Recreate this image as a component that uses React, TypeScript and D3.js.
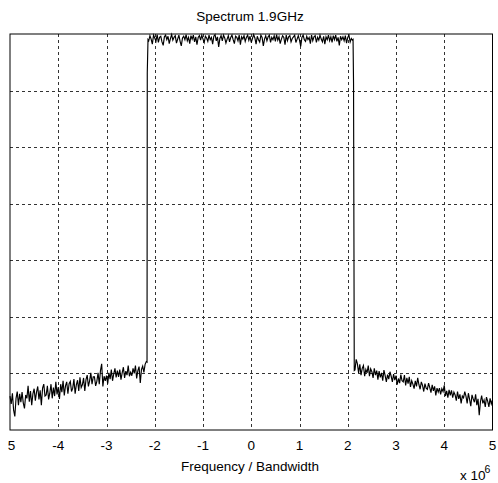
import React, { useEffect, useRef } from "react";
import * as d3 from "d3";

// spectrum levels in dB (x in units of 1e6)
const leftFloorStart = -5;
const bandStart = -2.125;
const rightFloorStart = 2.15;
const step = 0.025;

const leftFloor = [
  -64.0, -65.4, -63.5, -66.5, -67.6, -64.4, -63.2, -65.6, -63.6, -65.1,
  -63.3, -65.2, -66.2, -63.8, -64.4, -62.2, -65.0, -63.1, -65.6, -63.6,
  -62.7, -64.8, -63.3, -62.3, -64.6, -63.0, -65.6, -62.6, -61.9, -64.0,
  -63.8, -62.2, -64.6, -63.5, -61.9, -64.4, -62.5, -64.0, -61.5, -63.7,
  -62.4, -64.5, -61.9, -63.3, -61.3, -63.9, -62.2, -61.5, -63.6, -61.8,
  -61.4, -63.2, -62.6, -61.0, -63.6, -62.0, -61.2, -63.1, -60.7, -62.5,
  -62.0, -60.8, -63.1, -61.1, -60.3, -62.3, -61.3, -59.9, -61.9, -60.6,
  -60.6, -62.2, -61.4, -59.9, -61.9, -59.5, -58.3, -62.3, -60.5, -61.3,
  -60.4, -61.8, -59.9, -61.0, -59.3, -61.3, -60.1, -59.1, -60.7, -59.5,
  -60.6, -59.3, -61.1, -59.9, -58.9, -60.8, -59.6, -60.3, -58.6, -60.5,
  -59.8, -60.4, -59.1, -60.0, -58.6, -60.9, -59.5, -58.8, -61.7, -59.3,
  -58.7, -59.8, -58.4, -57.9,
];

const leftEdgeFreqs = [-2.16, -2.155, -2.14];
const leftEdgeLevels = [-58.0, -6.9, -1.0];

const band = [
  -1.2, -0.3, -0.9, -1.8, -0.2, -0.7, -1.3, -0.1, -1.5, -0.6,
  -0.4, -1.4, -2.0, -0.5, -0.2, -1.0, -0.4, -1.7, -0.8, -0.1,
  -1.1, -0.6, -0.3, -1.6, -0.9, -0.2, -1.3, -2.1, -0.7, -0.4,
  -1.0, -0.1, -1.2, -0.6, -1.7, -0.3, -0.9, -0.2, -1.4, -0.5,
  -1.9, -0.6, -0.3, -1.1, -0.2, -0.9, -1.5, -0.4, -0.7, -1.3,
  -0.2, -1.0, -0.6, -1.8, -0.4, -0.1, -1.2, -0.5, -2.3, -0.8,
  -0.3, -1.2, -0.2, -0.7, -1.6, -0.9, -0.3, -1.4, -0.6, -0.2,
  -1.0, -1.7, -0.4, -0.6, -1.2, -0.2, -1.9, -0.5, -0.9, -0.3,
  -1.3, -0.6, -0.2, -1.1, -0.4, -1.5, -0.8, -0.1, -0.7, -1.8,
  -0.4, -1.0, -1.4, -0.2, -0.6, -2.1, -0.9, -0.3, -1.2, -0.5,
  -0.2, -1.5, -0.6, -1.0, -0.3, -1.3, -0.1, -1.1, -0.5, -1.7,
  -0.9, -0.3, -0.6, -1.9, -0.2, -1.2, -0.5, -0.3, -1.4, -0.8,
  -0.5, -0.2, -1.5, -0.9, -0.3, -1.1, -2.2, -0.6, -0.2, -1.0,
  -1.3, -0.4, -1.0, -0.6, -1.7, -0.2, -1.2, -0.5, -0.3, -1.5,
  -0.6, -1.1, -0.2, -0.9, -1.4, -0.4, -1.8, -0.5, -1.0, -0.2,
  -1.2, -0.5, -1.5, -0.3, -1.0, -0.2, -1.3, -0.6, -2.0, -0.4,
  -1.0, -0.5, -1.2, -0.3, -1.6, -0.6, -0.2, -1.4, -0.8, -1.1,
];

const rightEdgeFreqs = [2.11, 2.12, 2.135];
const rightEdgeLevels = [-1.0, -8.8, -59.5];

const rightFloor = [
  -59.4, -57.5, -58.3, -59.9, -58.4, -60.3, -59.1, -58.6, -60.5, -59.3,
  -59.9, -58.6, -60.5, -59.2, -59.7, -60.8, -59.1, -60.3, -59.5, -61.1,
  -59.6, -60.7, -59.9, -61.3, -59.4, -60.4, -61.5, -60.2, -61.0, -59.7,
  -60.5, -61.5, -60.1, -61.2, -60.4, -62.0, -60.9, -61.7, -60.2, -61.3,
  -61.5, -60.3, -62.1, -60.8, -61.8, -60.6, -62.4, -61.3, -61.9, -62.7,
  -61.3, -62.3, -60.8, -62.0, -62.8, -61.5, -62.1, -63.2, -61.8, -62.6,
  -62.8, -61.7, -62.5, -63.4, -62.0, -63.1, -62.3, -63.9, -62.6, -63.3,
  -62.6, -63.7, -62.7, -63.2, -62.1, -64.0, -63.1, -64.3, -62.9, -63.9,
  -63.0, -64.3, -63.3, -63.8, -64.8, -63.2, -64.5, -63.7, -65.3, -64.0,
  -64.3, -63.2, -64.0, -65.3, -63.5, -64.6, -65.8, -63.8, -64.5, -65.1,
  -63.7, -65.6, -64.5, -67.4, -65.0, -63.9, -65.3, -64.7, -65.9, -64.2,
  -64.9, -65.9, -64.4, -65.4, -64.7,
];

const xTicks = [-5, -4, -3, -2, -1, 0, 1, 2, 3, 4, 5];
const xTickLabels = ["5", "-4", "-3", "-2", "-1", "0", "1", "2", "3", "4", "5"];
const yTicks = [-70, -60, -50, -40, -30, -20, -10, 0];

const title = "Spectrum 1.9GHz";
const xLabel = "Frequency / Bandwidth";

export default function App() {
  const ref = useRef<SVGSVGElement>(null);

  useEffect(() => {
    const svg = d3.select(ref.current);
    svg.selectAll("*").remove();

    const left = 10, right = 492.5, top = 34, bottom = 430;
    const font = "'Liberation Sans', Arial, sans-serif";

    const x = d3.scaleLinear().domain([-5, 5]).range([left, right]);
    const y = d3.scaleLinear().domain([-70, 0]).range([bottom, top]);

    // build the trace
    const pts: [number, number][] = [];
    leftFloor.forEach((v, i) => pts.push([leftFloorStart + i * step, v]));
    leftEdgeFreqs.forEach((f, i) => pts.push([f, leftEdgeLevels[i]]));
    band.forEach((v, i) => pts.push([bandStart + i * step, v]));
    rightEdgeFreqs.forEach((f, i) => pts.push([f, rightEdgeLevels[i]]));
    rightFloor.forEach((v, i) => pts.push([rightFloorStart + i * step, v]));

    // grid
    const grid = svg.append("g")
      .attr("stroke", "#333")
      .attr("stroke-width", 1)
      .attr("stroke-dasharray", "3,3");
    grid.selectAll(".vg").data(xTicks.slice(1, -1)).join("line")
      .attr("class", "vg")
      .attr("x1", d => Math.round(x(d)) + 0.5)
      .attr("x2", d => Math.round(x(d)) + 0.5)
      .attr("y1", top)
      .attr("y2", bottom);
    grid.selectAll(".hg").data(yTicks.slice(1, -1)).join("line")
      .attr("class", "hg")
      .attr("x1", left)
      .attr("x2", right)
      .attr("y1", d => Math.round(y(d)) + 0.5)
      .attr("y2", d => Math.round(y(d)) + 0.5);

    // trace
    const line = d3.line<[number, number]>()
      .x(d => x(d[0]))
      .y(d => y(Math.min(d[1], 0)));
    svg.append("path")
      .datum(pts)
      .attr("d", line)
      .attr("fill", "none")
      .attr("stroke", "#000")
      .attr("stroke-width", 1.15);

    // frame
    svg.append("rect")
      .attr("x", left)
      .attr("y", top)
      .attr("width", right - left)
      .attr("height", bottom - top)
      .attr("fill", "none")
      .attr("stroke", "#000")
      .attr("stroke-width", 1);

    // x tick labels
    svg.append("g").selectAll("text").data(xTicks).join("text")
      .attr("x", d => x(d) + (d === -5 ? 1.5 : 0))
      .attr("y", 450)
      .attr("text-anchor", "middle")
      .attr("font-family", font)
      .attr("font-size", 13.5)
      .text((d, i) => xTickLabels[i]);

    svg.append("text")
      .attr("x", 250)
      .attr("y", 21)
      .attr("text-anchor", "middle")
      .attr("font-family", font)
      .attr("font-size", 13.5)
      .text(title);

    svg.append("text")
      .attr("x", 250)
      .attr("y", 471)
      .attr("text-anchor", "middle")
      .attr("font-family", font)
      .attr("font-size", 13.5)
      .text(xLabel);

    // exponent
    svg.append("text")
      .attr("x", 460)
      .attr("y", 480)
      .attr("font-family", font)
      .attr("font-size", 13.5)
      .text("x 10");
    svg.append("text")
      .attr("x", 484.5)
      .attr("y", 473)
      .attr("font-family", font)
      .attr("font-size", 10.5)
      .text("6");
  }, []);

  return (
    <svg
      ref={ref}
      width={498}
      height={483}
      style={{ position: "absolute", left: 0, top: 0, background: "#fff" }}
    />
  );
}
